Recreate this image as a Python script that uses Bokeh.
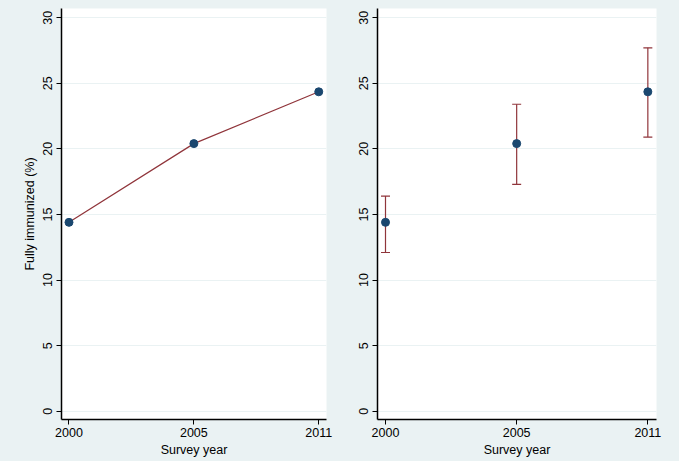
from bokeh.plotting import figure
from bokeh.layouts import row
from bokeh.models import ColumnDataSource, FixedTicker, Whisker, TeeHead, Range1d
from bokeh.embed import file_html
from bokeh.resources import INLINE

# Data
years = ["2000", "2005", "2011"]
xpos = [0, 1, 2]
immunized = [14.4, 20.4, 24.35]
ci_lower = [12.1, 17.3, 20.9]
ci_upper = [16.4, 23.4, 27.7]
y_ticks = [0, 5, 10, 15, 20, 25, 30]

BG = "#eaf2f3"
NAVY = "#1a476f"
MAROON = "#90353b"
FONT = "Liberation Sans"

src = ColumnDataSource(dict(x=xpos, y=immunized, lo=ci_lower, hi=ci_upper))


def make_fig(width, bl, br, ylabel, xr):
    p = figure(width=width, height=461, output_backend="svg", toolbar_location=None,
               x_range=Range1d(*xr), y_range=Range1d(-0.63, 30.7),
               min_border_left=bl, min_border_right=br, min_border_top=8,
               min_border_bottom=42)
    p.background_fill_color = "white"
    p.border_fill_color = BG
    p.outline_line_color = None
    p.xgrid.grid_line_color = None
    p.ygrid.grid_line_color = BG
    p.ygrid.grid_line_width = 1
    p.yaxis.ticker = FixedTicker(ticks=y_ticks)
    p.xaxis.ticker = FixedTicker(ticks=xpos)
    p.xaxis.major_label_overrides = {x: y for x, y in zip(xpos, years)}
    for ax in (p.xaxis, p.yaxis):
        ax.axis_line_color = "black"
        ax.axis_line_width = 1.5
        ax.major_tick_line_color = "black"
        ax.major_tick_out = 5
        ax.major_tick_in = 0
        ax.minor_tick_line_color = None
        ax.major_label_text_font = FONT
        ax.major_label_text_font_size = "12.5px"
        ax.major_label_text_color = "black"
        ax.axis_label_text_font = FONT
        ax.axis_label_text_font_size = "12.5px"
        ax.axis_label_text_font_style = "normal"
        ax.axis_label_text_color = "black"
    p.xaxis.major_label_standoff = 3
    p.xaxis.axis_label_standoff = 3
    p.xaxis.axis_label = "Survey year"
    p.yaxis.major_label_orientation = "vertical"
    p.yaxis.major_label_standoff = 4
    if ylabel:
        p.yaxis.axis_label = ylabel
        p.yaxis.axis_label_standoff = 4
    return p


p1 = make_fig(340, 61, 14, "Fully immunized (%)", (-0.06, 2.062))
p1.line("x", "y", source=src, line_color=MAROON, line_width=1.2)
p1.scatter("x", "y", source=src, size=8, fill_color=NAVY, line_color=NAVY)

p2 = make_fig(339, 37, 23, None, (-0.061, 2.066))
w = Whisker(source=src, base="x", lower="lo", upper="hi", dimension="height",
            line_color=MAROON, line_width=1.2,
            upper_head=TeeHead(size=9, line_color=MAROON, line_width=1.2),
            lower_head=TeeHead(size=9, line_color=MAROON, line_width=1.2))
p2.add_layout(w)
p2.scatter("x", "y", source=src, size=8, fill_color=NAVY, line_color=NAVY)

layout = row(p1, p2, spacing=0)
layout.styles = {"background-color": BG}
open("out.html", "w").write(file_html(layout, INLINE))
